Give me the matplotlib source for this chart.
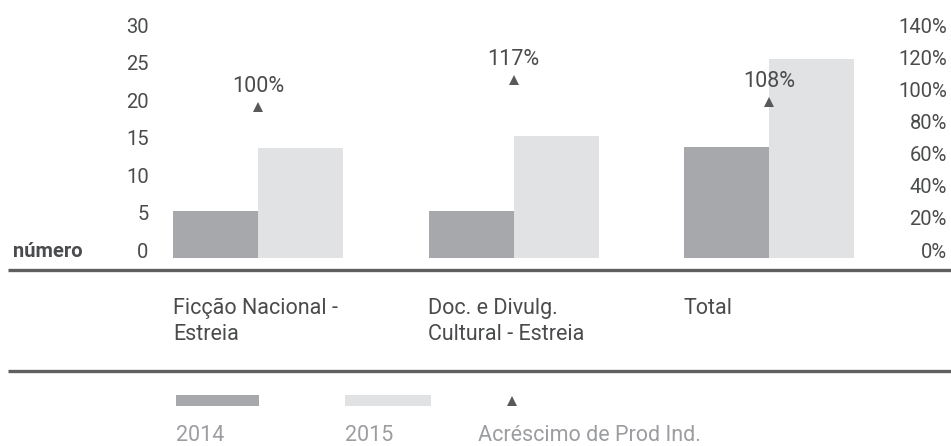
import matplotlib
matplotlib.use('Agg')
import matplotlib.pyplot as plt
from matplotlib.lines import Line2D
from matplotlib.patches import Rectangle
import matplotlib.transforms as mtransforms
import numpy as np

# ---- data ----
categories = ["Ficção Nacional -\nEstreia", "Doc. e Divulg.\nCultural - Estreia", "Total"]
years = ["2014", "2015"]
values_2014 = [6.2, 6.2, 14.7]
values_2015 = [14.6, 16.2, 26.5]
growth_labels = ["100%", "117%", "108%"]
growth_marker = [94, 111, 97]          # marker heights on the right (%) axis
left_ticks = [0, 5, 10, 15, 20, 25, 30]
right_ticks = [0, 20, 40, 60, 80, 100, 120, 140]
right_ticklabels = [f"{t}%" for t in right_ticks]
growth_legend = "Acréscimo de Prod Ind."
left_axis_label = "número"

# ---- style ----
plt.rcParams['font.family'] = ['Roboto', 'DejaVu Sans']
C2014 = '#a7a8ab'
C2015 = '#e1e2e4'
CTXT = '#4a4b4d'
CLEG = '#9c9da0'
CLINE = '#5f5f5f'
CTRI = '#58595b'

W, H = 951, 446
fig = plt.figure(figsize=(W / 100, H / 100), dpi=100)

def fx(px):
    return px / W

def fy(py):
    return 1 - py / H

ax_l, ax_r, ax_t, ax_b = 150, 900, 33, 257.5
ax = fig.add_axes([fx(ax_l), fy(ax_b), (ax_r - ax_l) / W, (ax_b - ax_t) / H])

spacing = 255.5
g0 = 258
x = np.arange(len(categories))
w = 85 / spacing

ax.bar(x - w / 2, values_2014, w, color=C2014, zorder=2)
ax.bar(x + w / 2, values_2015, w, color=C2015, zorder=2)
ax.set_xlim((ax_l - g0) / spacing, (ax_r - g0) / spacing)
ax.set_ylim(0, 30)
ax.set_yticks(left_ticks)
ax.set_yticklabels([str(t) for t in left_ticks])
ax.tick_params(axis='y', length=0, pad=1, labelsize=14.5, labelcolor=CTXT)
for lab in ax.get_yticklabels():
    lab.set_va('baseline')
ax.set_xticks([])
for s in ax.spines.values():
    s.set_visible(False)

ax2 = ax.twinx()
ax2.set_ylim(0, 140)
ax2.set_yticks(right_ticks)
ax2.set_yticklabels(right_ticklabels)
ax2.tick_params(axis='y', length=0, pad=(947 - ax_r) * 0.72, labelsize=14.5, labelcolor=CTXT)
for lab in ax2.get_yticklabels():
    lab.set_va('baseline')
    lab.set_ha('right')
for s in ax2.spines.values():
    s.set_visible(False)
ax2.set_xlim(ax.get_xlim())

# growth markers + labels
ax2.plot(x, growth_marker, linestyle='none', marker='^', markersize=7.5,
         color=CTRI, markeredgewidth=0, zorder=3, clip_on=False)
for xi, yi, lab in zip(x, growth_marker, growth_labels):
    ax2.annotate(lab, (xi, yi), xytext=(0, 20.5 * 0.72), textcoords='offset points',
                 ha='center', va='center', fontsize=15.5, color=CTXT,
                 annotation_clip=False)

# category labels (two lines, left aligned at bar left edge)
trans = mtransforms.blended_transform_factory(ax.transData, fig.transFigure)
baselines = [314, 340]
for xi, cat in zip(x, categories):
    for line, by in zip(cat.split('\n'), baselines):
        ax.text(xi - w, fy(by), line, transform=trans, ha='left', va='baseline',
                fontsize=15.5, color=CTXT)

# left axis label
fig.text(fx(13), fy(257), left_axis_label, ha='left', va='baseline',
         fontsize=14.5, fontweight='bold', color=CTXT)

# horizontal rules
for yy in (270, 371):
    fig.add_artist(Line2D([fx(8), 1], [fy(yy), fy(yy)], transform=fig.transFigure,
                          lw=2.4, color=CLINE, solid_capstyle='butt'))

# legend
fig.add_artist(Rectangle((fx(176), fy(405.7)), (259 - 176) / W, 10.7 / H,
                         transform=fig.transFigure, color=C2014, lw=0))
fig.add_artist(Rectangle((fx(345), fy(405.7)), (431 - 345) / W, 10.7 / H,
                         transform=fig.transFigure, color=C2015, lw=0))
fig.add_artist(Line2D([fx(512)], [fy(401)], transform=fig.transFigure, marker='^',
                      markersize=7.5, color=CTRI, markeredgewidth=0, linestyle='none'))
leg_x = [176, 345, 478]
for lx, txt in zip(leg_x, years + [growth_legend]):
    fig.text(fx(lx), fy(441), txt, ha='left', va='baseline', fontsize=15.5, color=CLEG)

fig.savefig('out.png', dpi=100)
